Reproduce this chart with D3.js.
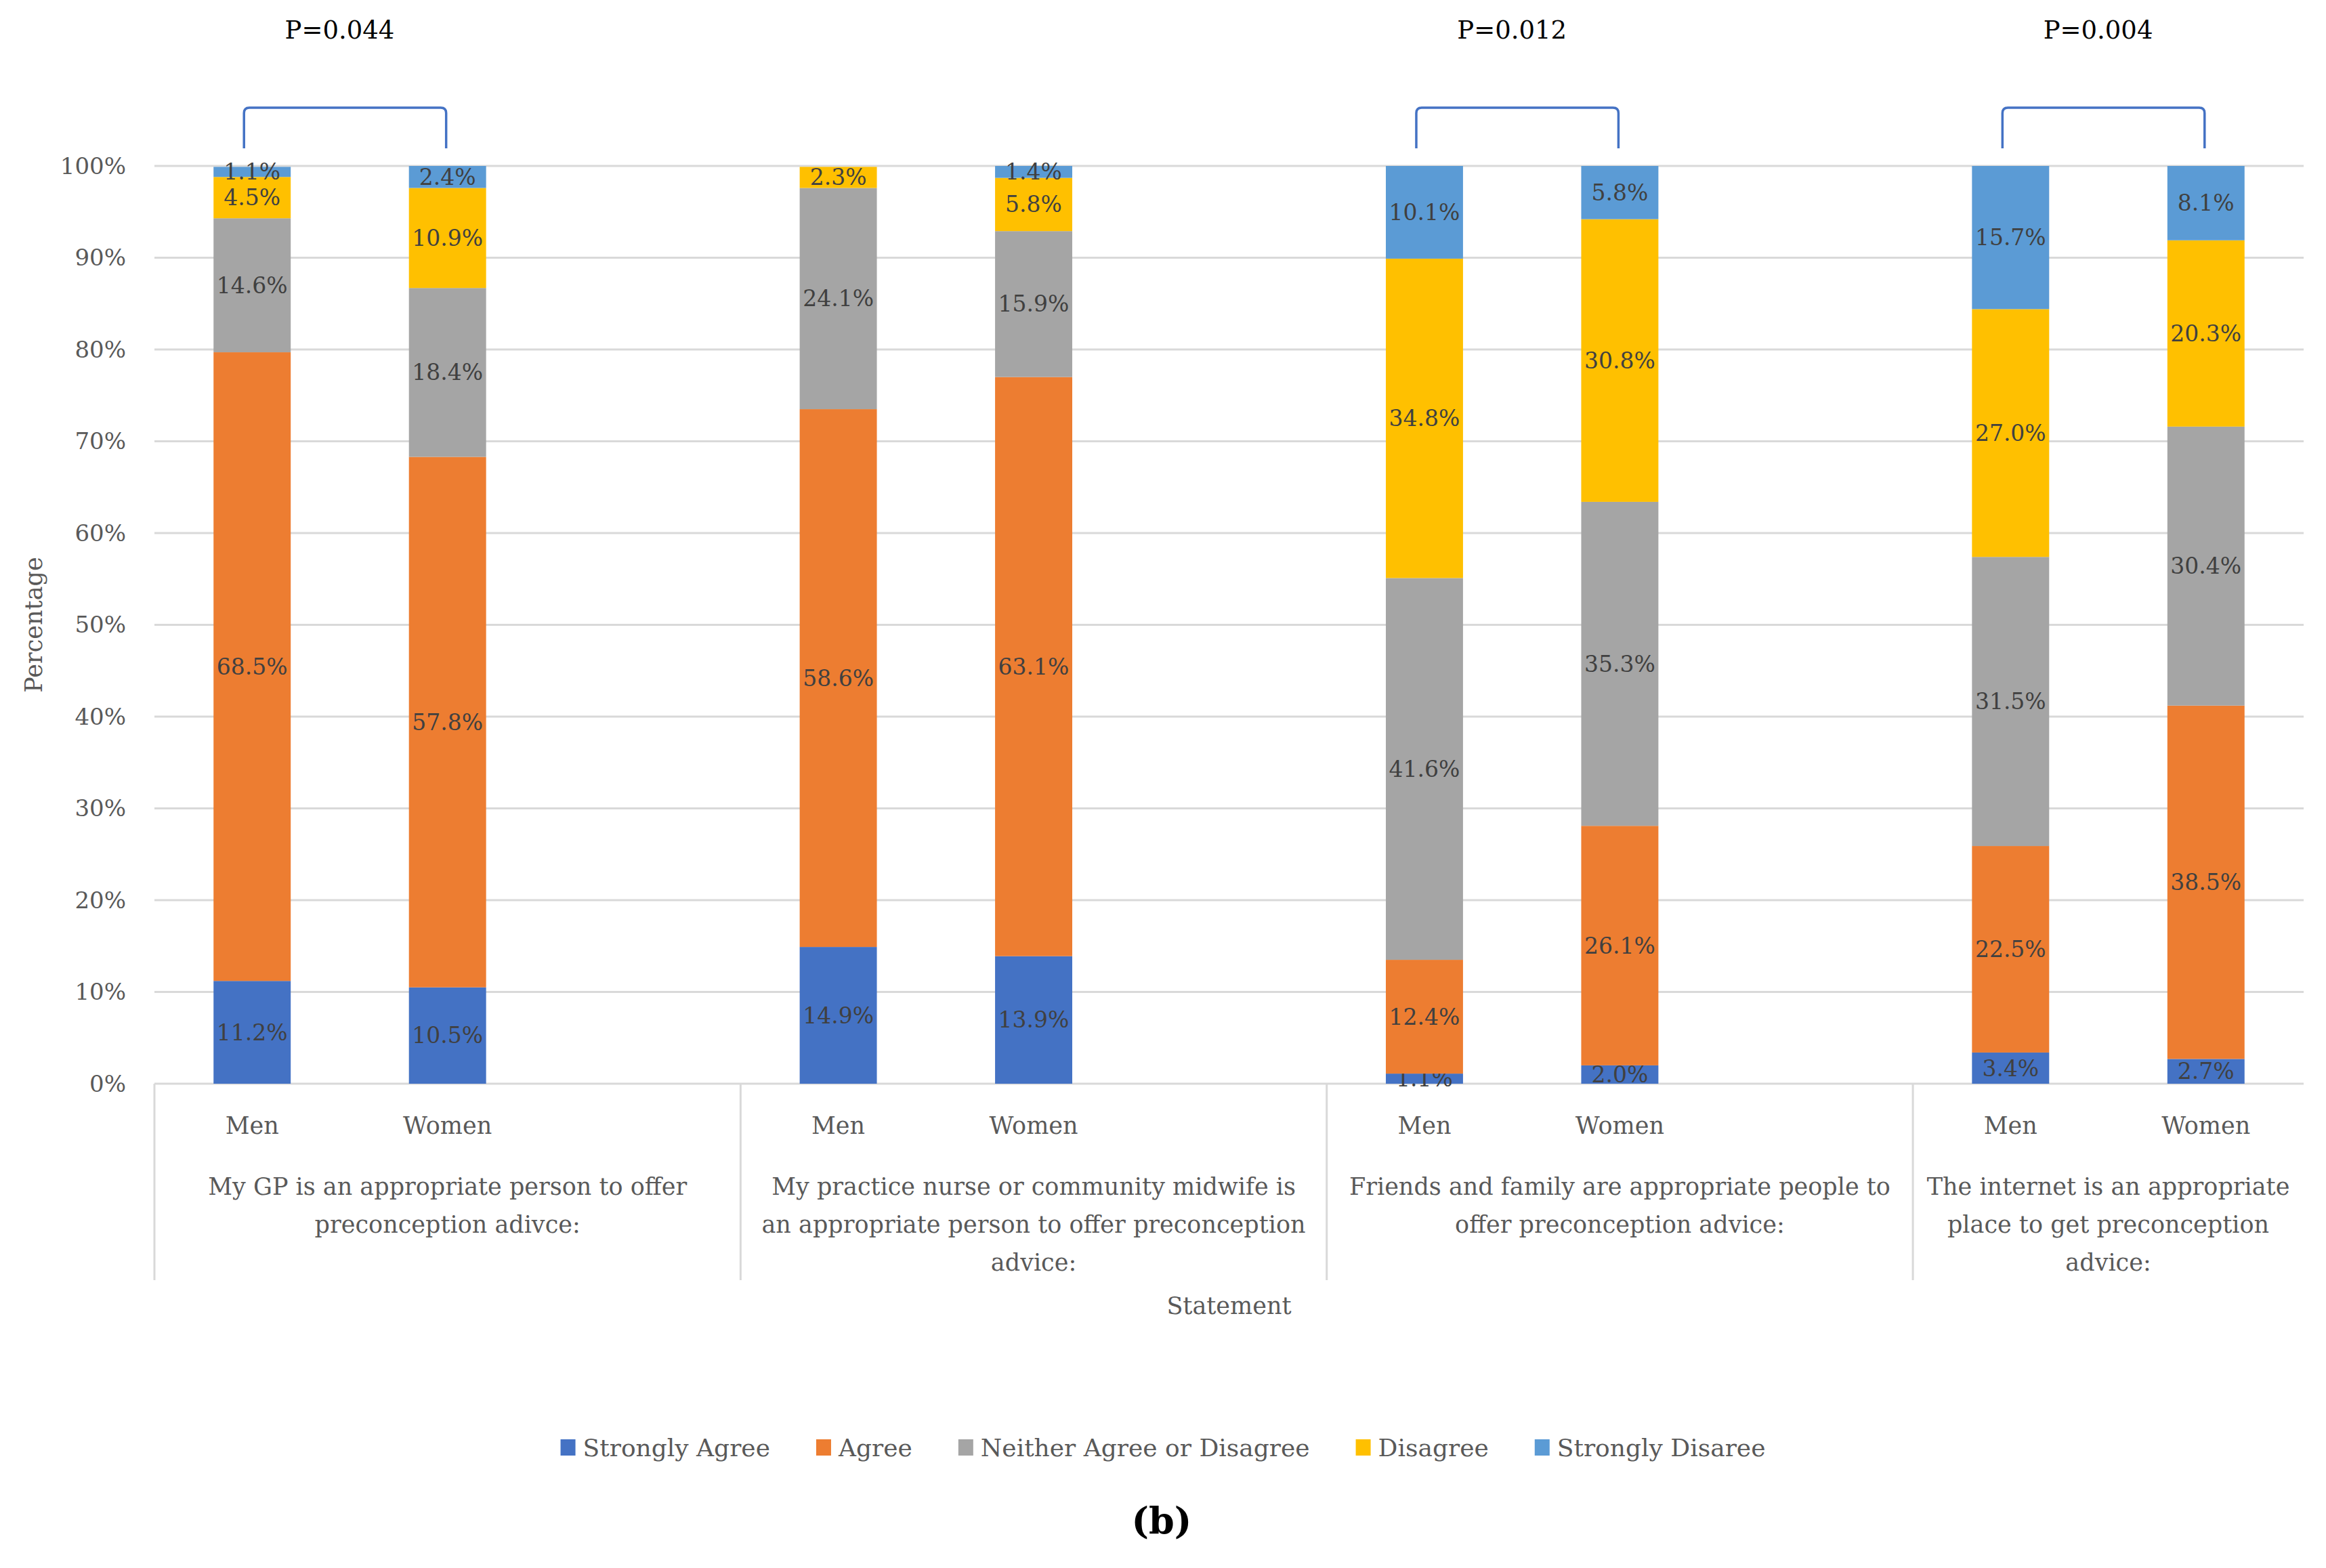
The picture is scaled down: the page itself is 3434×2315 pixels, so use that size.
<!DOCTYPE html>
<html>
<head>
<meta charset="utf-8">
<script src="https://cdn.jsdelivr.net/npm/d3@7"></script>
<style>
  body { margin: 0; background: #fff; }
  svg text { font-family: "DejaVu Serif", "Liberation Serif", serif; }
</style>
</head>
<body>
<div id="chart"></div>
<script>
// statements (outer category) and their wrapped label lines
const statementLines = [
  ["My GP is an appropriate person to offer", "preconception adivce:"],
  ["My practice nurse or community midwife is", "an appropriate person to offer preconception", "advice:"],
  ["Friends and family are appropriate people to", "offer preconception advice:"],
  ["The internet is an appropriate", "place to get preconception", "advice:"]
];
const genders = ["Men", "Women"];
const responses = ["Strongly Agree", "Agree", "Neither Agree or Disagree", "Disagree", "Strongly Disaree"];
const colors = ["#4472C4", "#ED7D31", "#A5A5A5", "#FFC000", "#5B9BD5"];

// percentages per statement, in response order
const menValues = [
  [11.2, 68.5, 14.6, 4.5, 1.1],
  [14.9, 58.6, 24.1, 2.3, 0],
  [1.1, 12.4, 41.6, 34.8, 10.1],
  [3.4, 22.5, 31.5, 27.0, 15.7]
];
const womenValues = [
  [10.5, 57.8, 18.4, 10.9, 2.4],
  [13.9, 63.1, 15.9, 5.8, 1.4],
  [2.0, 26.1, 35.3, 30.8, 5.8],
  [2.7, 38.5, 30.4, 20.3, 8.1]
];
const pValues = ["P=0.044", null, "P=0.012", "P=0.004"];
const yTicks = [0, 10, 20, 30, 40, 50, 60, 70, 80, 90, 100];

const width = 3434, height = 2315;
const margin = {top: 245, right: 33, bottom: 715, left: 228};

const svg = d3.select("#chart").append("svg")
  .attr("width", width)
  .attr("height", height);
svg.append("rect").attr("width", width).attr("height", height).attr("fill", "#fff");

// slots: Men, Women and an empty slot between statement groups
const slots = [];
statementLines.forEach((s, i) => {
  slots.push(i + "-Men", i + "-Women");
  if (i < statementLines.length - 1) slots.push(i + "-gap");
});

const x = d3.scaleBand()
  .domain(slots)
  .range([margin.left, width - margin.right])
  .paddingInner(0.605)
  .paddingOuter(0.3025);

const y = d3.scaleLinear()
  .domain([0, 100])
  .range([height - margin.bottom, margin.top]);

const rows = [];
statementLines.forEach((s, i) => {
  rows.push({slot: i + "-Men", gender: "Men", i, v: menValues[i]});
  rows.push({slot: i + "-Women", gender: "Women", i, v: womenValues[i]});
});

// gridlines
svg.append("g")
  .selectAll("line")
  .data(yTicks)
  .join("line")
  .attr("x1", x.range()[0])
  .attr("x2", x.range()[1])
  .attr("y1", d => y(d))
  .attr("y2", d => y(d))
  .attr("stroke", "#D9D9D9")
  .attr("stroke-width", 3);

// y tick labels
svg.append("g")
  .selectAll("text")
  .data(yTicks)
  .join("text")
  .attr("x", margin.left - 42)
  .attr("y", d => y(d))
  .attr("dy", "0.35em")
  .attr("text-anchor", "end")
  .attr("fill", "#595959")
  .attr("font-size", 34)
  .text(d => d + "%");

// y title
svg.append("text")
  .attr("transform", `translate(62, ${(y(0) + y(100)) / 2}) rotate(-90)`)
  .attr("text-anchor", "middle")
  .attr("fill", "#595959")
  .attr("font-size", 35)
  .text("Percentage");

// stacked bars
const stack = d3.stack()
  .keys(d3.range(responses.length))
  .value((d, k) => d.v[k]);
const series = stack(rows);

const layer = svg.append("g")
  .selectAll("g")
  .data(series)
  .join("g")
  .attr("fill", (d, k) => colors[k]);

layer.selectAll("rect")
  .data(d => d)
  .join("rect")
  .attr("x", d => x(d.data.slot))
  .attr("width", x.bandwidth())
  .attr("y", d => y(Math.min(d[1], 100)))
  .attr("height", d => y(d[0]) - y(Math.min(d[1], 100)));

// data labels
layer.selectAll("text")
  .data(d => d.filter(p => p[1] - p[0] > 0))
  .join("text")
  .attr("x", d => x(d.data.slot) + x.bandwidth() / 2)
  .attr("y", d => y((d[0] + d[1]) / 2))
  .attr("dy", "0.35em")
  .attr("text-anchor", "middle")
  .attr("fill", "#404040")
  .attr("font-size", 33)
  .text(d => (d[1] - d[0]).toFixed(1) + "%");

// category axis
const step = x.step();
const groupStart = i => x.range()[0] + i * 3 * step;
const axisG = svg.append("g");
axisG.selectAll("line")
  .data(statementLines.map((s, i) => i))
  .join("line")
  .attr("x1", i => groupStart(i))
  .attr("x2", i => groupStart(i))
  .attr("y1", y(0))
  .attr("y2", y(0) + 290)
  .attr("stroke", "#D9D9D9")
  .attr("stroke-width", 3);

axisG.selectAll("text.gender")
  .data(rows)
  .join("text")
  .attr("class", "gender")
  .attr("x", d => x(d.slot) + x.bandwidth() / 2)
  .attr("y", y(0) + 74)
  .attr("text-anchor", "middle")
  .attr("fill", "#595959")
  .attr("font-size", 35)
  .text(d => d.gender);

statementLines.forEach((lines, i) => {
  const cx = i < statementLines.length - 1
    ? groupStart(i) + 1.5 * step
    : (groupStart(i) + x.range()[1]) / 2;
  axisG.append("text")
    .attr("text-anchor", "middle")
    .attr("fill", "#595959")
    .attr("font-size", 35)
    .selectAll("tspan")
    .data(lines)
    .join("tspan")
    .attr("x", cx)
    .attr("y", (d, j) => y(0) + 164 + j * 56)
    .text(d => d);
});

svg.append("text")
  .attr("x", (x.range()[0] + x.range()[1]) / 2)
  .attr("y", y(0) + 340)
  .attr("text-anchor", "middle")
  .attr("fill", "#595959")
  .attr("font-size", 35)
  .text("Statement");

// significance brackets
pValues.forEach((p, i) => {
  if (!p) return;
  const x1 = x(i + "-Men") + x.bandwidth() / 2 - 12;
  const x2 = x(i + "-Women") + x.bandwidth() / 2 - 2;
  const top = 159, bot = 219, r = 8;
  svg.append("path")
    .attr("d", `M${x1},${bot} L${x1},${top + r} Q${x1},${top} ${x1 + r},${top} L${x2 - r},${top} Q${x2},${top} ${x2},${top + r} L${x2},${bot}`)
    .attr("fill", "none")
    .attr("stroke", "#4472C4")
    .attr("stroke-width", 3.5);
  svg.append("text")
    .attr("x", (x1 + x2) / 2 - 8)
    .attr("y", 44)
    .attr("dy", "0.35em")
    .attr("text-anchor", "middle")
    .attr("fill", "#000")
    .attr("font-size", 37)
    .text(p);
});

// legend
const legend = svg.append("g");
const items = legend.selectAll("g")
  .data(responses)
  .join("g");
items.append("rect")
  .attr("width", 22)
  .attr("height", 24)
  .attr("y", -12)
  .attr("fill", (d, k) => colors[k]);
items.append("text")
  .attr("x", 33)
  .attr("dy", "0.35em")
  .attr("fill", "#595959")
  .attr("font-size", 36)
  .text(d => d);
let lx = 0;
items.each(function() {
  d3.select(this).attr("transform", `translate(${lx},0)`);
  lx += this.getBBox().width + 68;
});
lx -= 68;
legend.attr("transform", `translate(${(width - lx) / 2}, 2137)`);

// panel letter
svg.append("text")
  .attr("x", 1715)
  .attr("y", 2245)
  .attr("dy", "0.35em")
  .attr("text-anchor", "middle")
  .attr("font-size", 54)
  .attr("font-weight", "bold")
  .attr("fill", "#000")
  .text("(b)");
</script>
</body>
</html>
